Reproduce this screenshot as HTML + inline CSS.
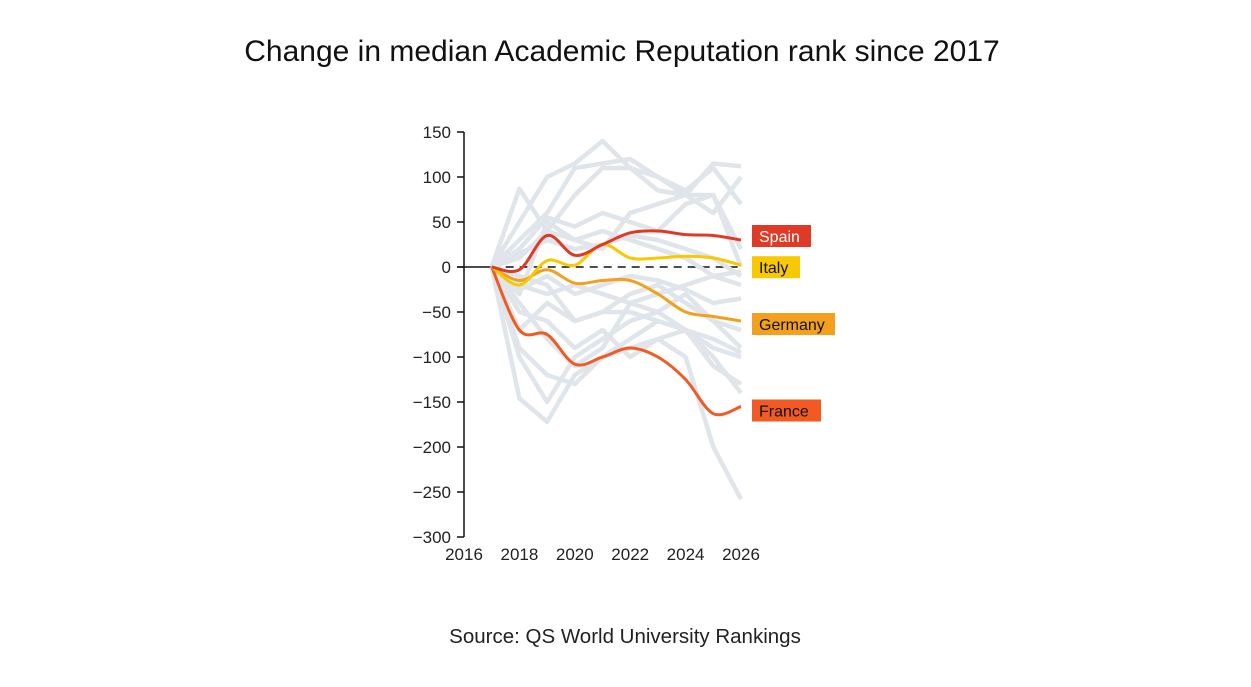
<!DOCTYPE html>
<html><head><meta charset="utf-8"><style>
body{margin:0;background:#fff;width:1251px;height:687px;overflow:hidden;font-family:"Liberation Sans",sans-serif}
svg{position:absolute;left:0;top:0}
</style></head><body>
<svg width="1251" height="687">
<text x="622" y="61" text-anchor="middle" font-size="30" fill="#111">Change in median Academic Reputation rank since 2017</text>
<g id="grid"></g>
<text x="625" y="643" text-anchor="middle" font-size="20.5" fill="#222">Source: QS World University Rankings</text>
</svg>
<script>
const years=[2017,2018,2019,2020,2021,2022,2023,2024,2025,2026];
const yTicks=[150,100,50,0,-50,-100,-150,-200,-250,-300];
const xTicks=[2016,2018,2020,2022,2024,2026];
const spain=[0,-3,35,13,25,38,40,36,35,30];
const italy=[0,-20,7,2,25,10,10,12,10,2];
const germany=[0,-15,-3,-18,-15,-15,-30,-50,-55,-60];
const france=[0,-70,-75,-108,-100,-90,-100,-125,-163,-155];
const others=[
[0,50,100,115,140,110,85,80,115,112],
[0,87,40,30,20,60,70,80,60,100],
[0,30,60,110,115,120,100,85,110,70],
[0,10,40,80,110,110,100,80,80,20],
[0,20,55,45,60,50,40,70,80,0],
[0,-30,50,30,40,30,20,10,-10,-20],
[0,-146,-172,-120,-100,-90,-80,-100,-200,-258],
[0,-90,-120,-130,-100,-80,-60,-70,-110,-130],
[0,-100,-150,-100,-80,-60,-50,-70,-90,-100],
[0,-40,-80,-110,-90,-40,-50,-30,-60,-90],
[0,-20,-30,-20,-30,-40,-30,-20,-10,-5],
[0,-10,-20,-60,-50,-50,-60,-70,-80,-95],
[0,-50,-60,-90,-70,-100,-80,-70,-100,-140],
[0,15,30,20,25,35,30,20,10,-10],
[0,-25,-10,-30,-20,-10,-15,-25,-40,-35],
[0,-70,-40,-60,-50,-30,-20,-40,-60,-70]
];
const NS="http://www.w3.org/2000/svg";
const g=document.getElementById('grid');
const X=v=>464+(v-2016)*27.7;
const Y=v=>267-v*0.9;
function mk(t,a,parent){const e=document.createElementNS(NS,t);for(const k in a)e.setAttribute(k,a[k]);(parent||g).appendChild(e);return e;}
let zl=mk('line',{x1:457,x2:X(2017),y1:Y(0),y2:Y(0),stroke:'#111','stroke-width':1.5});


let zd=mk('line',{x1:X(2017),x2:X(2026),y1:Y(0),y2:Y(0),stroke:'#111','stroke-width':1.5,'stroke-dasharray':'8 6'});


function smooth(vals){const p=vals.map((v,i)=>[X(years[i]),Y(v)]);let d='M'+p[0][0]+','+p[0][1];
for(let i=0;i<p.length-1;i++){const p0=p[Math.max(0,i-1)],p1=p[i],p2=p[i+1],p3=p[Math.min(p.length-1,i+2)];
d+=' C'+(p1[0]+(p2[0]-p0[0])/6)+','+(p1[1]+(p2[1]-p0[1])/6)+' '+(p2[0]-(p3[0]-p1[0])/6)+','+(p2[1]-(p3[1]-p1[1])/6)+' '+p2[0]+','+p2[1];}return d;}
others.forEach((s,i)=>{const e=mk('polyline',{points:s.map((v,j)=>X(years[j])+','+Y(v)).join(' '),fill:'none',stroke:'#dfe5ea','stroke-width':4.5,'stroke-linejoin':'round'});

});
const series=[['germany',germany,'#f2a01e'],['france',france,'#f15a22'],['italy',italy,'#f8c800'],['spain',spain,'#e03a26']];
series.forEach(([n,s,c])=>{const e=mk('path',{d:smooth(s),fill:'none',stroke:c,'stroke-width':3});

});
let ya=mk('line',{x1:464,x2:464,y1:Y(150),y2:Y(-300),stroke:'#111','stroke-width':1.5});


yTicks.forEach(t=>{mk('line',{x1:457,x2:464,y1:Y(t),y2:Y(t),stroke:'#111','stroke-width':1.5});
const e=mk('text',{x:451,y:Y(t)+6,'text-anchor':'end','font-size':17,fill:'#222'});e.textContent=t<0?'\u2212'+(-t):t;

});
xTicks.forEach(t=>{const e=mk('text',{x:X(t),y:560,'text-anchor':'middle','font-size':17,fill:'#222'});e.textContent=t;

});
const labels=[['Spain',spain,'#e03a26',59,-4],['Italy',italy,'#f8c800',48,2],['Germany',germany,'#f2a01e',83,3],['France',france,'#f15a22',69,4]];
labels.forEach(([n,s,c,w,off])=>{const yy=Y(s[s.length-1])+off;
const r=mk('rect',{x:752,y:yy-11,width:w,height:22,fill:c});


const t=mk('text',{x:759,y:yy+6,'font-size':16,fill:n==='Spain'?'#fff':'#111'});t.textContent=n;

});
</script>
</body></html>
